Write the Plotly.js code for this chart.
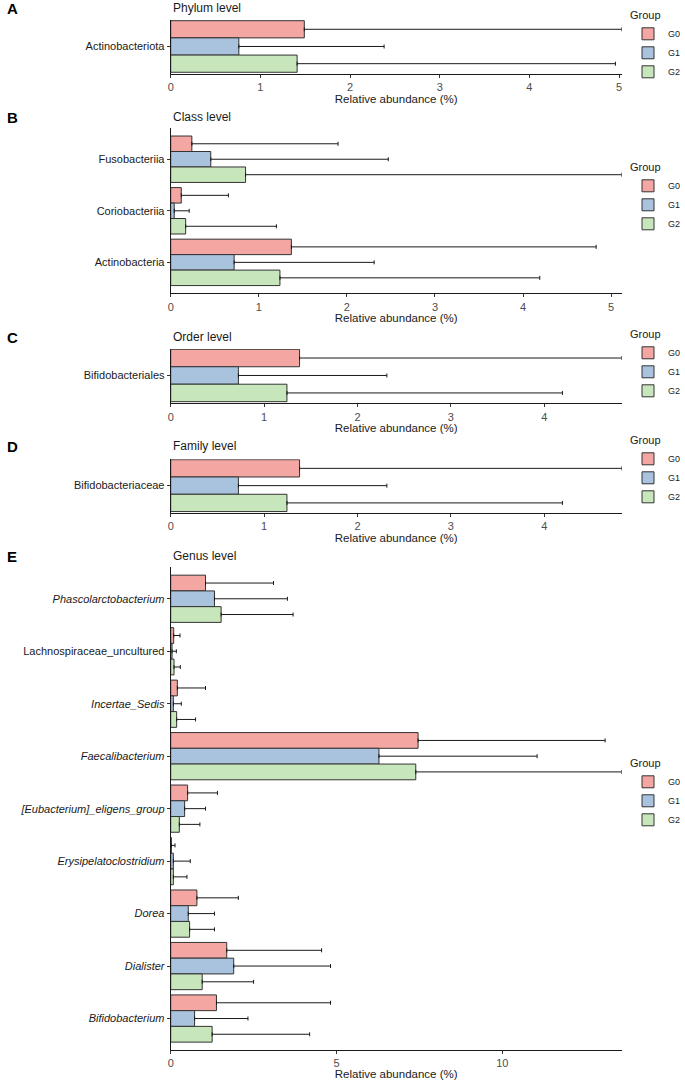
<!DOCTYPE html>
<html>
<head>
<meta charset="utf-8">
<script src="https://cdn.plot.ly/plotly-3.0.1.min.js"></script>
<style>html,body{margin:0;padding:0;background:#fff;}#chart{width:685px;height:1080px;}</style>
</head>
<body>
<div id="chart"></div>
<script>
// ---------- DATA ----------
const groups = ['G0', 'G1', 'G2'];
const groupColors = ['#F4A6A3', '#A9C2DE', '#C8E6BC'];

// A: Phylum level
const phylumCats = ['Actinobacteriota'];
const phylumMeanG0 = [1.49];
const phylumMeanG1 = [0.76];
const phylumMeanG2 = [1.41];
const phylumSdG0 = [3.54];
const phylumSdG1 = [1.62];
const phylumSdG2 = [3.55];

// B: Class level
const classCats = ['Fusobacteriia', 'Coriobacteriia', 'Actinobacteria'];
const classMeanG0 = [0.24, 0.12, 1.37];
const classMeanG1 = [0.455, 0.04, 0.72];
const classMeanG2 = [0.85, 0.17, 1.24];
const classSdG0 = [1.66, 0.535, 3.46];
const classSdG1 = [2.015, 0.17, 1.59];
const classSdG2 = [4.27, 1.03, 2.95];

// C: Order level
const orderCats = ['Bifidobacteriales'];
const orderMeanG0 = [1.38];
const orderMeanG1 = [0.725];
const orderMeanG2 = [1.245];
const orderSdG0 = [3.45];
const orderSdG1 = [1.59];
const orderSdG2 = [2.95];

// D: Family level
const familyCats = ['Bifidobacteriaceae'];
const familyMeanG0 = [1.38];
const familyMeanG1 = [0.725];
const familyMeanG2 = [1.245];
const familySdG0 = [3.45];
const familySdG1 = [1.59];
const familySdG2 = [2.95];

// E: Genus level
const genusCats = ['Phascolarctobacterium', 'Lachnospiraceae_uncultured', 'Incertae_Sedis',
  'Faecalibacterium', '[Eubacterium]_eligens_group', 'Erysipelatoclostridium', 'Dorea',
  'Dialister', 'Bifidobacterium'];
const genusLabels = ['<i>Phascolarctobacterium</i>', 'Lachnospiraceae_uncultured', '<i>Incertae_Sedis</i>',
  '<i>Faecalibacterium</i>', '<i>[Eubacterium]_eligens_group</i>', '<i>Erysipelatoclostridium</i>', '<i>Dorea</i>',
  '<i>Dialister</i>', '<i>Bifidobacterium</i>'];
const genusMeanG0 = [1.05, 0.09, 0.20, 7.46, 0.51, 0.02, 0.79, 1.69, 1.38];
const genusMeanG1 = [1.32, 0.04, 0.08, 6.28, 0.42, 0.08, 0.53, 1.90, 0.72];
const genusMeanG2 = [1.52, 0.10, 0.18, 7.39, 0.26, 0.08, 0.57, 0.95, 1.25];
const genusSdG0 = [2.05, 0.19, 0.85, 5.64, 0.90, 0.11, 1.25, 2.86, 3.44];
const genusSdG1 = [2.20, 0.13, 0.24, 4.77, 0.63, 0.51, 0.79, 2.92, 1.61];
const genusSdG2 = [2.17, 0.19, 0.57, 6.21, 0.62, 0.41, 0.75, 1.55, 2.94];

const xTitle = 'Relative abundance (%)';

// ---------- LAYOUT HELPERS ----------
const W = 685, H = 1080;
const FONT = 'Liberation Sans, Arial, Helvetica, sans-serif';
const py = v => 1 - v / H;
const xDom = [170.7 / W, 621.7 / W];

const panels = [
  {letter: 'A', title: 'Phylum level', cats: phylumCats, labels: phylumCats,
   means: [phylumMeanG0, phylumMeanG1, phylumMeanG2], sds: [phylumSdG0, phylumSdG1, phylumSdG2],
   top: 20, bot: 74, yr: [0.48, -0.462], xmax: 5.03, dtick: 1, titleY: 8, legTop: 5},
  {letter: 'B', title: 'Class level', cats: classCats, labels: classCats,
   means: [classMeanG0, classMeanG1, classMeanG2], sds: [classSdG0, classSdG1, classSdG2],
   top: 128.3, bot: 293.3, yr: [2.6, -0.6], xmax: 5.12, dtick: 1, titleY: 117.3, legTop: 157},
  {letter: 'C', title: 'Order level', cats: orderCats, labels: orderCats,
   means: [orderMeanG0, orderMeanG1, orderMeanG2], sds: [orderSdG0, orderSdG1, orderSdG2],
   top: 349, bot: 403.3, yr: [0.478, -0.455], xmax: 4.83, dtick: 1, titleY: 337, legTop: 324},
  {letter: 'D', title: 'Family level', cats: familyCats, labels: familyCats,
   means: [familyMeanG0, familyMeanG1, familyMeanG2], sds: [familySdG0, familySdG1, familySdG2],
   top: 459.3, bot: 513, yr: [0.475, -0.457], xmax: 4.83, dtick: 1, titleY: 446, legTop: 430},
  {letter: 'E', title: 'Genus level', cats: genusCats, labels: genusLabels,
   means: [genusMeanG0, genusMeanG1, genusMeanG2], sds: [genusSdG0, genusSdG1, genusSdG2],
   top: 567.3, bot: 1050, yr: [8.6, -0.6], xmax: 13.6, dtick: 5, titleY: 556, legTop: 753}
];

const traces = [];
const layout = {
  width: W, height: H,
  margin: {l: 0, r: 0, t: 0, b: 0, autoexpand: false},
  paper_bgcolor: '#ffffff', plot_bgcolor: '#ffffff',
  font: {family: FONT, color: '#1a1a1a'},
  barmode: 'group', bargap: 0.1, bargroupgap: 0,
  showlegend: true,
  annotations: []
};

panels.forEach((p, i) => {
  const n = i + 1;
  const xa = n === 1 ? 'x' : 'x' + n;
  const ya = n === 1 ? 'y' : 'y' + n;
  const lg = n === 1 ? 'legend' : 'legend' + n;
  groups.forEach((g, k) => {
    traces.push({
      type: 'bar', orientation: 'h',
      y: p.cats, x: p.means[k], name: g,
      xaxis: xa, yaxis: ya, legend: lg,
      marker: {color: groupColors[k], line: {color: '#333333', width: 1}},
      error_x: {type: 'data', symmetric: false, array: p.sds[k],
                arrayminus: p.sds[k].map(() => 0),
                color: '#1a1a1a', thickness: 1, width: 2},
      hoverinfo: 'x+y+name'
    });
  });
  layout[(n === 1 ? 'xaxis' : 'xaxis' + n)] = {
    domain: xDom, anchor: ya, range: [0, p.xmax], autorange: false,
    tick0: 0, dtick: p.dtick, showgrid: false, zeroline: false,
    showline: true, linecolor: '#1a1a1a', linewidth: 1,
    ticks: 'outside', ticklen: 3, tickcolor: '#333333', tickwidth: 1,
    tickfont: {family: FONT, size: 11, color: '#4d4d4d'},
    title: {text: xTitle, font: {family: FONT, size: 11.5, color: '#1a1a1a'}, standoff: 2}
  };
  layout[(n === 1 ? 'yaxis' : 'yaxis' + n)] = {
    domain: [py(p.bot), py(p.top)], anchor: xa,
    type: 'category', categoryorder: 'array', categoryarray: p.cats,
    tickvals: p.cats, ticktext: p.labels,
    range: p.yr, autorange: false,
    showgrid: false, zeroline: false,
    showline: true, linecolor: '#1a1a1a', linewidth: 1,
    ticks: 'outside', ticklen: 3, tickcolor: '#333333', tickwidth: 1,
    tickfont: {family: FONT, size: 11, color: '#1a1a1a'}
  };
  layout[lg] = {
    x: 628 / W, xanchor: 'left', y: py(p.legTop), yanchor: 'top',
    bgcolor: 'rgba(0,0,0,0)', borderwidth: 0,
    title: {text: 'Group', font: {family: FONT, size: 11, color: '#1a1a1a'}},
    font: {family: FONT, size: 9, color: '#1a1a1a'},
    tracegroupgap: 0, itemwidth: 30, traceorder: 'normal'
  };
  layout.annotations.push({
    xref: 'paper', yref: 'paper', x: 170.7 / W, y: py(p.titleY),
    xanchor: 'left', yanchor: 'middle', showarrow: false,
    text: p.title, font: {family: FONT, size: 12, color: '#1a1a1a'}
  });
  layout.annotations.push({
    xref: 'paper', yref: 'paper', x: 5 / W, y: py(p.titleY),
    xanchor: 'left', yanchor: 'middle', showarrow: false,
    text: '<b>' + p.letter + '</b>', font: {family: FONT, size: 15, color: '#000000'}
  });
});

Plotly.newPlot('chart', traces, layout, {displayModeBar: false, responsive: false});
</script>
</body>
</html>
